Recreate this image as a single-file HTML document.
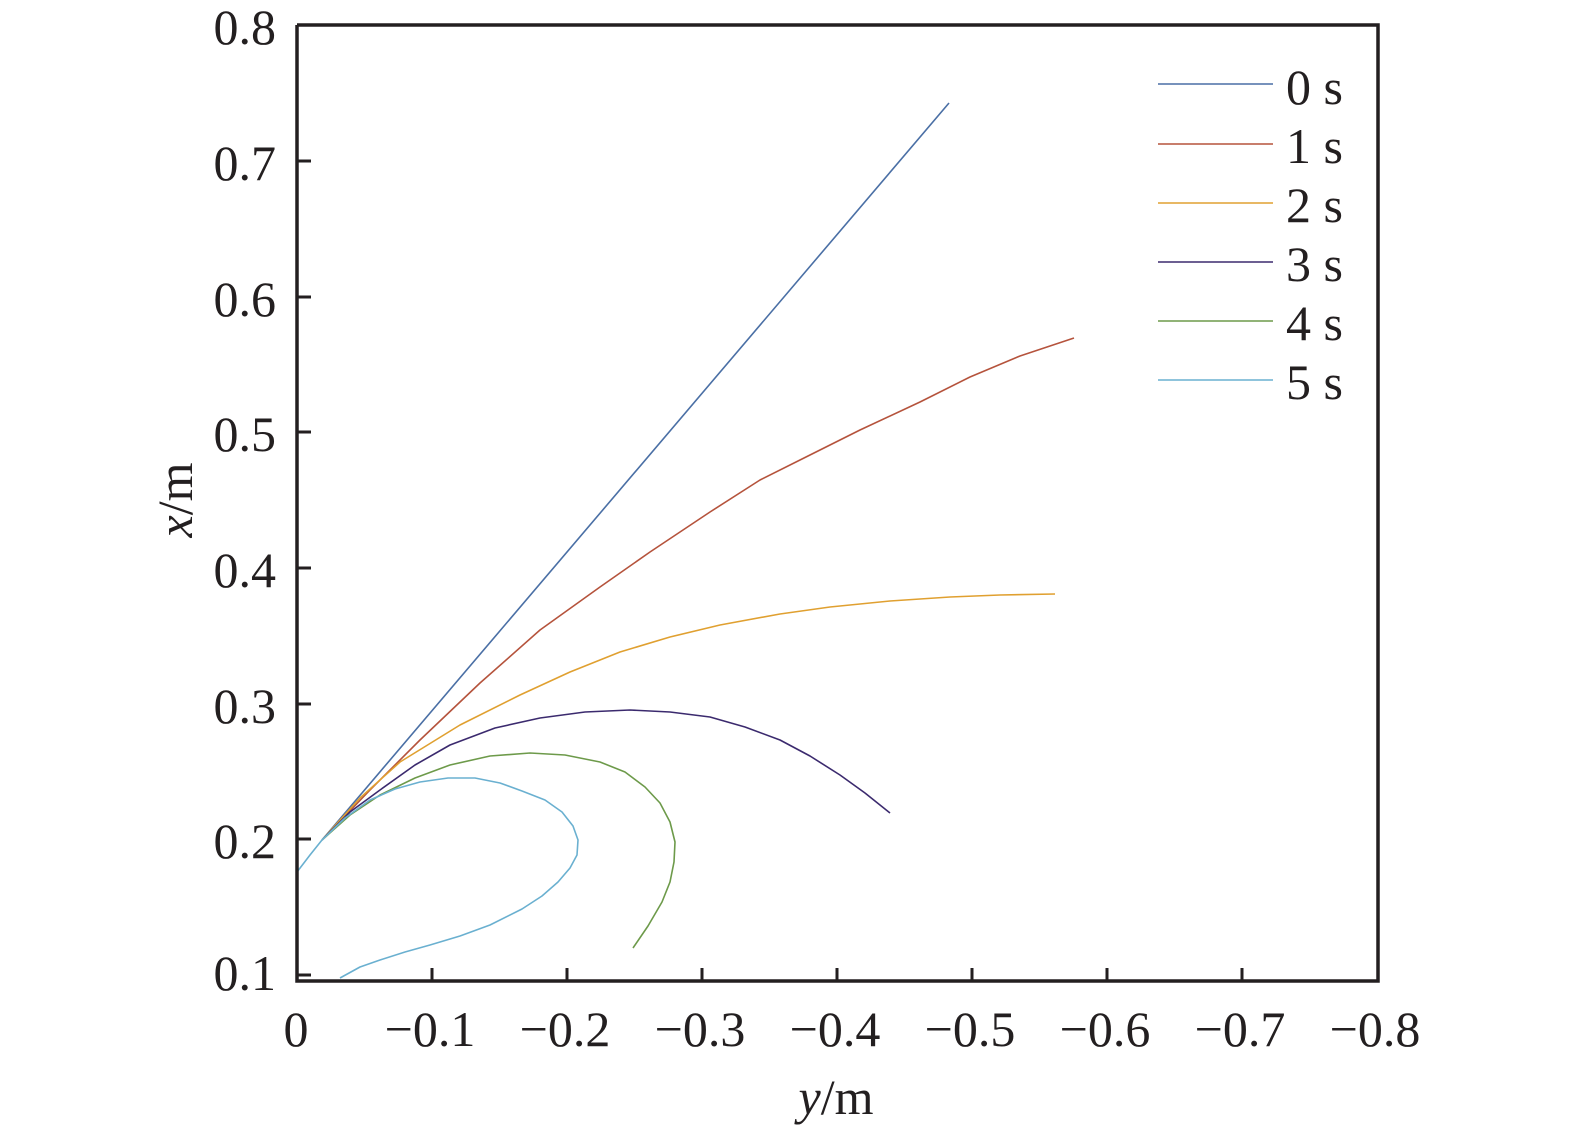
<!DOCTYPE html>
<html><head><style>body{margin:0;background:#fff}svg{display:block}</style></head>
<body>
<svg width="1575" height="1138" viewBox="0 0 1575 1138" xmlns="http://www.w3.org/2000/svg" style="font-family:'Liberation Serif', serif" fill="#231f20">
<g fill="none" stroke-width="1.6" stroke-linejoin="round">
<polyline stroke="#4a6fa5" points="322,840 949,103"/>
<polyline stroke="#b5533c" points="322,840 370,790 420,740 480,683 540,630 600,587 650,552 710,512 760,480 810,455 860,430 920,402 970,377 1020,356 1074,338"/>
<polyline stroke="#e0a030" points="322,840 360,798 400,762 460,725 520,695 570,672 620,652 670,637 720,625 780,614 830,607 890,601 950,597 1000,595 1055,594"/>
<polyline stroke="#3b2a6e" points="322,840 350,812 380,790 415,765 450,745 495,728 540,718 585,712 630,710 670,712 710,717 745,727 780,740 810,756 840,775 865,793 890,813"/>
<polyline stroke="#6d9a4a" points="322,840 350,815 380,795 415,778 450,765 490,756 530,753 565,755 600,762 625,772 645,787 660,803 670,822 675,842 674,862 670,882 662,902 648,926 633,948"/>
<polyline stroke="#6ab0d0" points="297,872 310,855 322,840 345,818 370,800 395,789 420,782 448,778 475,778 500,783 522,791 545,800 562,812 573,826 578,840 577,855 570,868 558,882 542,896 522,909 490,925 460,936 430,945 405,952 380,960 360,967 340,978"/>
</g>
<g stroke="#231f20" stroke-width="3" fill="none">
<polyline points="297,25 1378,25 1378,981 297,981 297,25" stroke-width="3.5"/>
<path d="M297,161h14M297,297h14M297,432h14M297,568h14M297,704h14M297,839h14M297,975h14"/>
<path d="M432,981v-13M567,981v-13M702,981v-13M837,981v-13M972,981v-13M1107,981v-13M1242,981v-13"/>
</g>
<g font-size="50" text-anchor="end">
<text x="276" y="44">0.8</text><text x="276" y="180">0.7</text><text x="276" y="316">0.6</text><text x="276" y="451">0.5</text><text x="276" y="587">0.4</text><text x="276" y="723">0.3</text><text x="276" y="858">0.2</text><text x="276" y="990">0.1</text>
</g>
<g font-size="50" text-anchor="middle">
<text x="296" y="1046">0</text>
<text x="430" y="1046">−0.1</text><text x="565" y="1046">−0.2</text><text x="700" y="1046">−0.3</text><text x="835" y="1046">−0.4</text><text x="970" y="1046">−0.5</text><text x="1105" y="1046">−0.6</text><text x="1240" y="1046">−0.7</text><text x="1375" y="1046">−0.8</text>
<text x="836" y="1114"><tspan font-style="italic">y</tspan>/m</text>
<text transform="translate(192,500) rotate(-90)"><tspan font-style="italic">x</tspan>/m</text>
</g>
<g stroke-width="1.6">
<line x1="1158" y1="84" x2="1273" y2="84" stroke="#4a6fa5"/>
<line x1="1158" y1="144" x2="1273" y2="144" stroke="#b5533c"/>
<line x1="1158" y1="203" x2="1273" y2="203" stroke="#e0a030"/>
<line x1="1158" y1="262" x2="1273" y2="262" stroke="#3b2a6e"/>
<line x1="1158" y1="321" x2="1273" y2="321" stroke="#6d9a4a"/>
<line x1="1158" y1="380" x2="1273" y2="380" stroke="#6ab0d0"/>
</g>
<g font-size="50">
<text x="1286" y="104">0 s</text><text x="1286" y="163">1 s</text><text x="1286" y="222">2 s</text><text x="1286" y="281">3 s</text><text x="1286" y="340">4 s</text><text x="1286" y="399">5 s</text>
</g>
</svg>
</body></html>
